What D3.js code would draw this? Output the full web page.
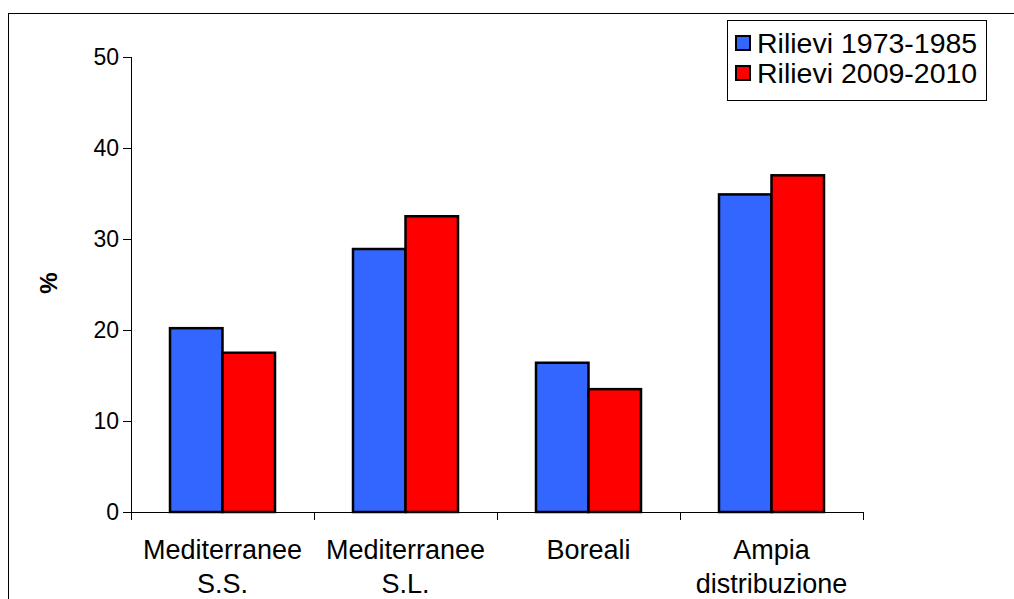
<!DOCTYPE html>
<html>
<head>
<meta charset="utf-8">
<script src="https://d3js.org/d3.v7.min.js"></script>
<style>
  body { margin: 0; background: #fff; }
  svg { display: block; font-family: "Liberation Sans", Arial, sans-serif; }
</style>
</head>
<body>
<svg width="1014" height="599"></svg>
<script>
// chart data
const categories = [["Mediterranee", "S.S."], ["Mediterranee", "S.L."], ["Boreali"], ["Ampia", "distribuzione"]];
const seriesNames = ["Rilievi 1973-1985", "Rilievi 2009-2010"];
const seriesColors = ["#3366FF", "#FF0000"];
const values1973 = [20.2, 28.9, 16.4, 34.9];
const values2009 = [17.5, 32.5, 13.5, 37.0];
const yTicks = [0, 10, 20, 30, 40, 50];

const svg = d3.select("svg");

// outer frame
svg.append("rect")
  .attr("x", 8.5).attr("y", 13.5)
  .attr("width", 1020).attr("height", 600)
  .attr("fill", "none").attr("stroke", "#000").attr("stroke-width", 1);

const keys = categories.map((c, i) => i);
const x0 = d3.scaleBand().domain(keys).range([131, 863]).padding(0);
const x1 = d3.scaleBand().domain([0, 1]).range([39, 144]).padding(0);
const y = d3.scaleLinear().domain([0, 50]).range([512, 57]);

const rows = keys.map(i => ({ i: i, vals: [values1973[i], values2009[i]] }));

// bars
const g = svg.append("g");
g.selectAll("g.cat")
  .data(rows)
  .enter().append("g")
  .attr("class", "cat")
  .attr("transform", d => "translate(" + x0(d.i) + ",0)")
  .selectAll("rect")
  .data(d => d.vals.map((v, s) => ({ v: v, s: s })))
  .enter().append("rect")
  .attr("x", d => x1(d.s))
  .attr("y", d => y(d.v))
  .attr("width", x1.bandwidth())
  .attr("height", d => y(0) - y(d.v))
  .attr("fill", d => seriesColors[d.s])
  .attr("stroke", "#000")
  .attr("stroke-width", 2.5);

// y axis
const yAxis = svg.append("g")
  .attr("transform", "translate(131,0)")
  .call(d3.axisLeft(y).tickValues(yTicks).tickSize(8).tickPadding(4).tickFormat(d3.format("d")));
yAxis.select(".domain").attr("d", "M0.5,57V520");
yAxis.selectAll("text").attr("font-size", 23).attr("fill", "#000").style("font-family", "Liberation Sans, Arial, sans-serif");
yAxis.selectAll("line").attr("stroke", "#000");

// x axis
const xAxis = svg.append("g")
  .attr("transform", "translate(0,512)");
xAxis.append("line")
  .attr("x1", 123).attr("x2", 863)
  .attr("y1", 0.5).attr("y2", 0.5)
  .attr("stroke", "#000");
const edges = keys.map(i => x0(i)).concat([x0.range()[1]]);
xAxis.selectAll("line.tick")
  .data(edges)
  .enter().append("line")
  .attr("class", "tick")
  .attr("x1", d => Math.round(d) + 0.5).attr("x2", d => Math.round(d) + 0.5)
  .attr("y1", 0).attr("y2", 8)
  .attr("stroke", "#000");

const labels = svg.append("g");
rows.forEach(d => {
  const t = labels.append("text")
    .attr("x", x0(d.i) + x0.bandwidth() / 2)
    .attr("y", 559)
    .attr("text-anchor", "middle")
    .attr("font-size", 27)
    .attr("fill", "#000");
  categories[d.i].forEach((line, k) => {
    t.append("tspan")
      .attr("x", x0(d.i) + x0.bandwidth() / 2)
      .attr("dy", k === 0 ? 0 : 34)
      .text(line);
  });
});

// y label
svg.append("text")
  .attr("transform", "translate(57,283) rotate(-90)")
  .attr("text-anchor", "middle")
  .attr("font-size", 24)
  .attr("font-weight", "bold")
  .text("%");

// legend
const legend = svg.append("g");
legend.append("rect")
  .attr("x", 727.5).attr("y", 20.5)
  .attr("width", 259).attr("height", 80)
  .attr("fill", "#fff").attr("stroke", "#000");
seriesNames.forEach((name, s) => {
  const cy = 43 + s * 30;
  legend.append("rect")
    .attr("x", 736).attr("y", cy - 7)
    .attr("width", 14).attr("height", 14)
    .attr("fill", seriesColors[s])
    .attr("stroke", "#000").attr("stroke-width", 2);
  legend.append("text")
    .attr("x", 757).attr("y", cy + 10)
    .attr("font-size", 28.5)
    .attr("fill", "#000")
    .text(name);
});
</script>
</body>
</html>
